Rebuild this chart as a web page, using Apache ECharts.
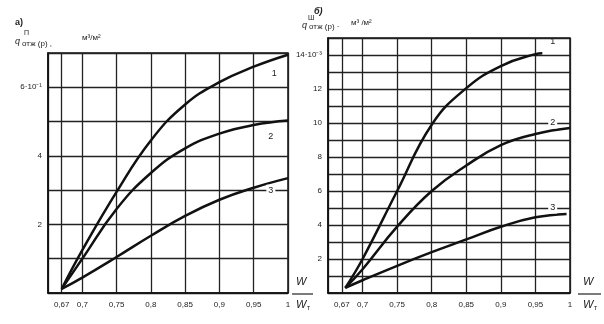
<!DOCTYPE html>
<html><head><meta charset="utf-8">
<script src="https://cdn.jsdelivr.net/npm/echarts@6/dist/echarts.min.js"></script>
<style>html,body{margin:0;padding:0;background:#fff}#c{width:604px;height:324px}</style>
</head><body><div id="c"></div>
<script>
// ---- data ----
const xTickLabels = [0.67, 0.7, 0.75, 0.8, 0.85, 0.9, 0.95, 1];
const leftX  = [0.67, 0.7, 0.75, 0.8, 0.85, 0.9, 0.95, 1.0];
const left1  = [0.12, 1.25, 2.95, 4.45, 5.5, 6.15, 6.6, 6.95];
const left2  = [0.12, 1.0, 2.45, 3.5, 4.22, 4.65, 4.9, 5.03];
const left3  = [0.12, 0.45, 1.05, 1.67, 2.25, 2.72, 3.07, 3.35];
const rightX1 = [0.675, 0.7, 0.75, 0.8, 0.85, 0.9, 0.95, 0.96];
const right1  = [0.3, 2.0, 6.0, 9.9, 12.05, 13.35, 14.05, 14.1];
const rightX2 = [0.675, 0.7, 0.75, 0.8, 0.85, 0.9, 0.95, 1.0];
const right2  = [0.3, 1.4, 3.9, 6.0, 7.5, 8.7, 9.35, 9.7];
const rightX3 = [0.675, 0.7, 0.75, 0.8, 0.85, 0.9, 0.95, 0.995];
const right3  = [0.3, 0.75, 1.6, 2.4, 3.15, 3.9, 4.45, 4.65];
const curveNames = ['1', '2', '3'];

const zip = (xs, ys) => xs.map((x, i) => [x, ys[i]]);
const FONT = 'Liberation Sans';
const gridTicks = [0.65, 0.67, 0.7, 0.75, 0.8, 0.85, 0.9, 0.95, 1];

function xAxis(gi) {
  return {
    type: 'value', gridIndex: gi, min: 0.65, max: 1, interval: 0.05,
    axisLine: {show: true, lineStyle: {color: '#111', width: 1.5}},
    axisTick: {show: false, customValues: gridTicks},
    splitLine: {show: true, lineStyle: {color: '#222', width: 1.3}},
    axisLabel: {customValues: xTickLabels, color: '#222', fontFamily: FONT, fontSize: 8, margin: 8,
      formatter: v => String(+v.toFixed(2)).replace('.', ',')}
  };
}
function yAxis(gi, max, topLabel) {
  return {
    type: 'value', gridIndex: gi, min: 0, max: max, interval: 1,
    axisLine: {show: true, lineStyle: {color: '#111', width: 1.5}},
    axisTick: {show: false},
    splitLine: {show: true, lineStyle: {color: '#222', width: 1.3}},
    axisLabel: {color: '#222', fontFamily: FONT, fontSize: 8, margin: 6,
      formatter: v => (v === 0 || v % 2) ? '' : (v === max - 1 ? topLabel : String(v))}
  };
}
function curve(xi, xs, ys, name, lbl) {
  return {
    type: 'line', xAxisIndex: xi, yAxisIndex: xi, data: zip(xs, ys), smooth: 0.45,
    symbol: 'none', lineStyle: {color: '#111', width: 2.5}, silent: true,
    markPoint: {symbol: 'circle', symbolSize: 0, silent: true,
      data: [{coord: lbl.coord, value: name}],
      label: {show: true, formatter: name, color: '#222', fontFamily: FONT, fontSize: 9,
        backgroundColor: lbl.bg ? '#fff' : 'transparent', padding: [1, 2]}}
  };
}

const chart = echarts.init(document.getElementById('c'), null, {renderer: 'canvas'});
const T = (x, y, text, size, extra) => Object.assign({type: 'text', x, y,
  style: Object.assign({text, fill: '#222', font: (size || 8) + 'px "' + FONT + '"'}, extra || {})});
chart.setOption({
  animation: false,
  backgroundColor: '#fff',
  grid: [
    {left: 48, right: 316, top: 53, bottom: 31, show: true, borderColor: '#111', borderWidth: 1.5},
    {left: 328, right: 34, top: 38, bottom: 31, show: true, borderColor: '#111', borderWidth: 1.5}
  ],
  xAxis: [xAxis(0), xAxis(1)],
  yAxis: [yAxis(0, 7, '6·10⁻¹'), yAxis(1, 15, '14·10⁻³')],
  series: [
    curve(0, leftX, left1, curveNames[0], {coord: [0.98, 6.4]}),
    curve(0, leftX, left2, curveNames[1], {coord: [0.975, 4.55]}),
    curve(0, leftX, left3, curveNames[2], {coord: [0.975, 3.0], bg: true}),
    curve(1, rightX1, right1, curveNames[0], {coord: [0.975, 14.8]}),
    curve(1, rightX2, right2, curveNames[1], {coord: [0.975, 10.0], bg: true}),
    curve(1, rightX3, right3, curveNames[2], {coord: [0.975, 5.0], bg: true})
  ],
  graphic: [
    T(15, 18, 'а)', 9, {font: 'bold 9px "' + FONT + '"'}),
    T(15, 37, 'q', 9, {font: 'italic 9px "' + FONT + '"'}),
    T(24, 30, 'П', 7),
    T(22, 40, 'отж (р) ,', 8),
    T(82, 34, 'м³/м²', 8),
    T(314, 7, 'б)', 9, {font: 'italic bold 9px "' + FONT + '"'}),
    T(302, 21, 'q', 9, {font: 'italic 9px "' + FONT + '"'}),
    T(308, 15, 'Ш', 7),
    T(309, 23, 'отж (р) ·', 8),
    T(351, 19, 'м³ /м²', 8),
    // fraction W / W_т, left
    T(296, 276, 'W', 11, {font: 'italic 11px "' + FONT + '"'}),
    {type: 'line', shape: {x1: 292, y1: 294, x2: 313, y2: 294}, style: {stroke: '#222', lineWidth: 1.2}},
    T(296, 299, 'W', 11, {font: 'italic 11px "' + FONT + '"'}),
    T(307, 305, 'т', 7),
    // fraction right
    T(583, 276, 'W', 11, {font: 'italic 11px "' + FONT + '"'}),
    {type: 'line', shape: {x1: 578, y1: 294, x2: 601, y2: 294}, style: {stroke: '#222', lineWidth: 1.2}},
    T(583, 299, 'W', 11, {font: 'italic 11px "' + FONT + '"'}),
    T(594, 305, 'т', 7)
  ]
});
</script></body></html>
